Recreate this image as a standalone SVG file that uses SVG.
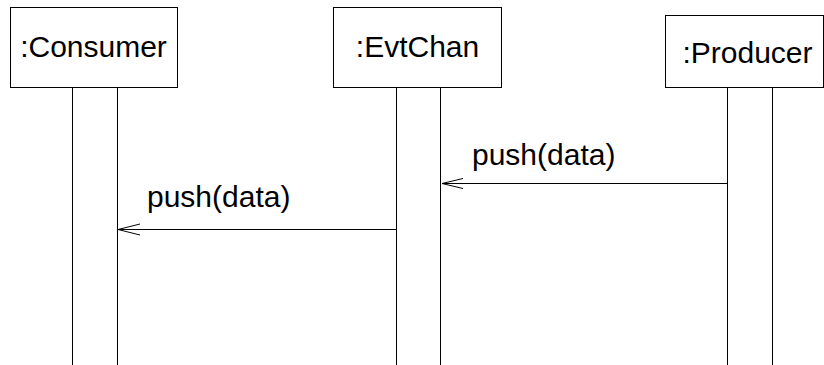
<svg xmlns="http://www.w3.org/2000/svg" width="824" height="365" viewBox="0 0 824 365">
  <style>
    .box { fill: #fff; stroke: #000; stroke-width: 1; }
    .life { fill: #fff; stroke: #000; stroke-width: 1; }
    .label { font-family: "Liberation Sans", Arial, sans-serif; font-size: 30px; fill: #000; }
    .msg { stroke: #000; stroke-width: 1; fill: none; }
    .head { stroke: #000; stroke-width: 1; fill: none; }
  </style>
  <rect width="824" height="365" fill="#fff"/>

  <!-- participants -->
  <g id="consumer">
    <rect class="box" x="10.5" y="7.5" width="167" height="80"/>
    <text class="label" x="93.5" y="57" text-anchor="middle">:Consumer</text>
    <rect class="life" x="72.5" y="87.5" width="45" height="290"/>
  </g>
  <g id="evtchan">
    <rect class="box" x="333.5" y="7.5" width="168" height="80"/>
    <text class="label" x="417.5" y="57" text-anchor="middle">:EvtChan</text>
    <rect class="life" x="396.5" y="87.5" width="44" height="290"/>
  </g>
  <g id="producer">
    <rect class="box" x="665.5" y="15.5" width="158" height="72"/>
    <text class="label" x="747.5" y="63" text-anchor="middle">:Producer</text>
    <rect class="life" x="727.5" y="87.5" width="45" height="290"/>
  </g>

  <!-- messages -->
  <g id="connectors">
    <line class="msg" x1="727" y1="183.5" x2="442" y2="183.5"/>
    <polyline class="head" points="463,178.5 442,183.5 463,188.5"/>
    <text class="label" x="472" y="165">push(data)</text>

    <line class="msg" x1="396" y1="229.5" x2="118" y2="229.5"/>
    <polyline class="head" points="140,224 118,229.5 140,235"/>
    <text class="label" x="147" y="207">push(data)</text>
  </g>
</svg>
